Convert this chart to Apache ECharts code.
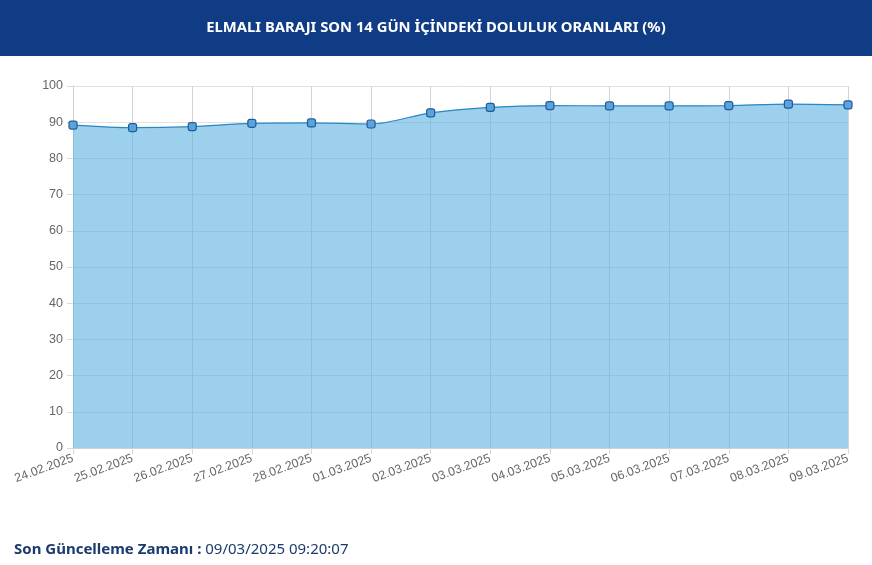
<!DOCTYPE html>
<html><head><meta charset="utf-8">
<script src="https://cdn.jsdelivr.net/npm/echarts@6/dist/echarts.min.js"></script>
<style>html,body{margin:0;padding:0;background:#fff}#c{width:872px;height:565px}</style>
</head><body><div id="c"></div>
<script>
const dates = ["24.02.2025","25.02.2025","26.02.2025","27.02.2025","28.02.2025","01.03.2025","02.03.2025","03.03.2025","04.03.2025","05.03.2025","06.03.2025","07.03.2025","08.03.2025","09.03.2025"];
const fillRates = [89.2,88.5,88.8,89.7,89.8,89.5,92.6,94.1,94.6,94.5,94.5,94.6,95.0,94.8];
const titleText = "ELMALI BARAJI SON 14 GÜN İÇİNDEKİ DOLULUK ORANLARI (%)";
const updateLabel = "Son Güncelleme Zamanı :";
const updateValue = " 09/03/2025 09:20:07";

const chart = echarts.init(document.getElementById('c'), null, {renderer:'canvas'});
chart.setOption({
  animation:false,
  graphic:[
    {type:'rect', left:0, top:0, shape:{width:872, height:56}, style:{fill:'#103c85'}, z:0},
    {type:'text', left:'center', top:20, style:{text:titleText, fill:'#fff', font:'bold 14.8px "Noto Sans", sans-serif'}, z:1},
    {type:'text', left:14, top:542, style:{rich:{a:{fill:'#1b3a6d', fontWeight:'bold', fontSize:15, fontFamily:'"Noto Sans", sans-serif'}, b:{fill:'#1b3a6d', fontSize:15, fontFamily:'"Noto Sans", sans-serif'}}, text:'{a|'+updateLabel+'}{b|'+updateValue+'}'}, z:1}
  ],
  grid:{left:73, right:24, top:86, bottom:117, containLabel:false},
  xAxis:{type:'category', data:dates, boundaryGap:false,
    axisLine:{lineStyle:{color:'#d0d0d0'}},
    axisTick:{show:true, length:6, lineStyle:{color:'#d9d9d9'}},
    axisLabel:{rotate:20, color:'#666', fontSize:12.3, fontFamily:'"Liberation Sans", Arial, sans-serif', margin:10, interval:0},
    splitLine:{show:true, lineStyle:{color:'#d4d4d4'}}},
  yAxis:{type:'value', min:0, max:100, interval:10,
    axisLine:{show:true, lineStyle:{color:'#d0d0d0'}},
    axisTick:{show:true, length:6, lineStyle:{color:'#d9d9d9'}},
    axisLabel:{color:'#666', fontSize:12.5, fontFamily:'"Liberation Sans", Arial, sans-serif', margin:10},
    splitLine:{show:true, lineStyle:{color:'#e2e2e2'}}},
  series:[{type:'line', data:fillRates, smooth:0.3,
    symbol:'roundRect', symbolSize:8,
    itemStyle:{color:'#5aa3dc', borderColor:'#1f5c99', borderWidth:1.2},
    lineStyle:{color:'#2a86c4', width:1.2},
    areaStyle:{color:'rgba(92,177,223,0.6)', opacity:1}}]
});
</script></body></html>
